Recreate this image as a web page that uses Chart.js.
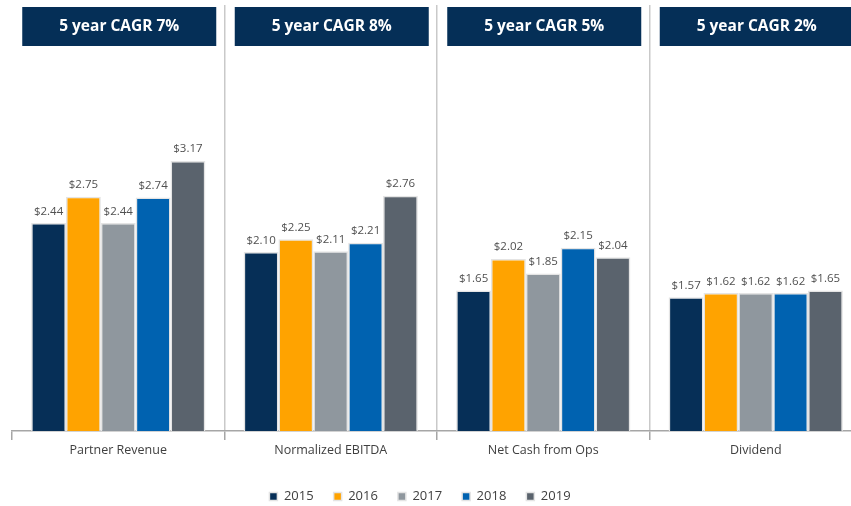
<!DOCTYPE html>
<html>
<head>
<meta charset="utf-8">
<script src="https://cdn.jsdelivr.net/npm/chart.js@4"></script>
<style>
  html, body { margin: 0; padding: 0; background: #fff; overflow: hidden; }
  #wrap { width: 866px; height: 506px; }
</style>
</head>
<body>
<div id="wrap"><canvas id="barChart"></canvas></div>
<script>
const categories = ['Partner Revenue', 'Normalized EBITDA', 'Net Cash from Ops', 'Dividend'];
const cagrLabels = ['5 year CAGR 7%', '5 year CAGR 8%', '5 year CAGR 5%', '5 year CAGR 2%'];
const years = ['2015', '2016', '2017', '2018', '2019'];

const values2015 = [2.44, 2.10, 1.65, 1.57];
const values2016 = [2.75, 2.25, 2.02, 1.62];
const values2017 = [2.44, 2.11, 1.85, 1.62];
const values2018 = [2.74, 2.21, 2.15, 1.62];
const values2019 = [3.17, 2.76, 2.04, 1.65];

const seriesValues = [values2015, values2016, values2017, values2018, values2019];
const seriesColors = [
  '#062f57', // navy
  '#ffa300', // orange
  '#8f979e', // gray
  '#0062b0', // blue
  '#5a636d'  // slate
];

// dark header boxes above each group
const headerPlugin = {
  id: 'headers',
  afterDatasetsDraw(chart) {
    const ctx = chart.ctx;
    const x = chart.scales.x;
    ctx.save();
    cagrLabels.forEach((txt, i) => {
      const cx = x.getPixelForValue(i);
      ctx.fillStyle = '#052f57';
      ctx.fillRect(cx - 96, 7, 194, 39);
      ctx.fillStyle = '#ffffff';
      ctx.font = 'bold 15.5px "Open Sans"';
      ctx.textAlign = 'center';
      ctx.textBaseline = 'middle';
      ctx.fillText(txt, cx + 1, 27);
    });
    ctx.restore();
  }
};

// dollar labels on top of bars
const valueLabels = {
  id: 'valueLabels',
  afterDatasetsDraw(chart) {
    const ctx = chart.ctx;
    ctx.save();
    ctx.font = '11.5px "Open Sans"';
    ctx.fillStyle = '#505050';
    ctx.textAlign = 'center';
    ctx.textBaseline = 'bottom';
    chart.data.datasets.forEach((ds, di) => {
      chart.getDatasetMeta(di).data.forEach((bar, i) => {
        ctx.fillText('$' + ds.data[i].toFixed(2), bar.x, bar.y - 6);
      });
    });
    ctx.restore();
  }
};

// legend sits a bit left of the canvas centre and lower in the original
const legendShift = {
  id: 'legendShift',
  afterLayout(chart) {
    const lg = chart.legend;
    lg.left -= 17;
    lg.right -= 17;
    lg.top += 9;
    lg.bottom += 9;
  }
};

const ctx = document.querySelector('#barChart').getContext('2d');
const barChart = new Chart(ctx, {
  type: 'bar',
  data: {
    labels: categories,
    datasets: years.map((y, i) => ({
      label: y,
      data: seriesValues[i],
      backgroundColor: seriesColors[i],
      borderColor: '#e4e4e4',
      borderWidth: 1.5,
      categoryPercentage: 0.82,
      barPercentage: 1.0
    }))
  },
  options: {
    responsive: true,
    maintainAspectRatio: false,
    animation: false,
    layout: { padding: { left: 12, right: 4, top: 5, bottom: 2 } },
    scales: {
      y: {
        display: false,
        min: 0,
        max: 5
      },
      x: {
        border: { color: '#a6a6a6', width: 1.5 },
        grid: {
          offset: true,
          lineWidth: 1.5,
          color: c => c.index === 0 ? 'rgba(0,0,0,0)' : '#c9c9c9',
          tickColor: '#a6a6a6',
          tickLength: 9
        },
        ticks: {
          color: '#404040',
          font: { family: 'Open Sans', size: 12.5 },
          padding: 3
        }
      }
    },
    plugins: {
      legend: {
        display: true,
        position: 'bottom',
        labels: {
          boxWidth: 8,
          boxHeight: 8,
          padding: 20,
          color: '#404040',
          font: { family: 'Open Sans', size: 13 }
        }
      },
      tooltip: { enabled: false }
    }
  },
  plugins: [headerPlugin, valueLabels, legendShift]
});
</script>
</body>
</html>
